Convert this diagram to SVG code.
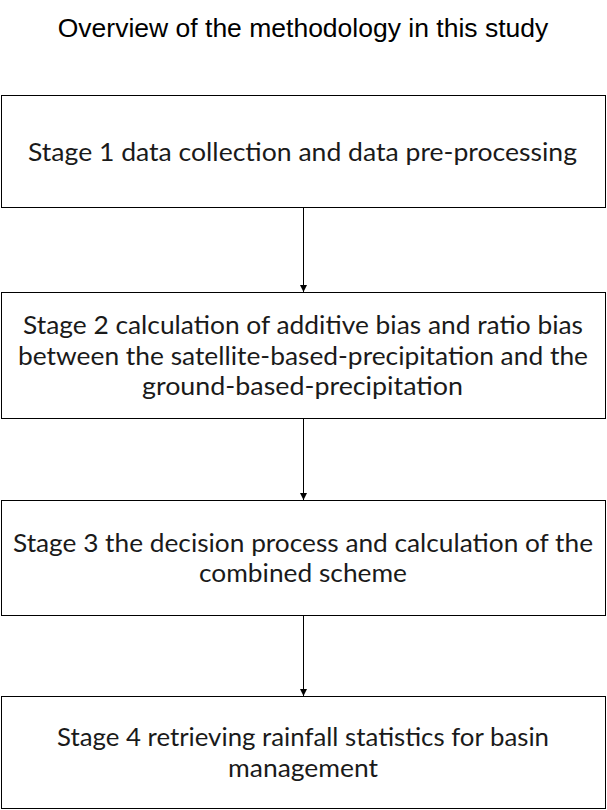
<svg xmlns="http://www.w3.org/2000/svg" width="607" height="810" viewBox="0 0 607 810">
<style>
.box{fill:#fff;stroke:#000;stroke-width:1}
.t{font-family:Lato,"Noto Sans",sans-serif;font-size:25px;fill:#1a1a1a;text-anchor:middle}
.title{font-family:"Liberation Sans",Arial,sans-serif;font-size:26.5px;fill:#000;text-anchor:middle}
.c{stroke:#000;stroke-width:1;fill:none;marker-end:url(#ah)}
</style>
<defs>
<marker id="ah" viewBox="0 0 10 10" refX="10" refY="5" markerWidth="7" markerHeight="9" markerUnits="userSpaceOnUse" orient="auto">
<path d="M0,0 L10,5 L0,10 z" fill="#000"/>
</marker>
</defs>
<rect width="607" height="810" fill="#fff"/>
<text class="title" x="303" y="37">Overview of the methodology in this study</text>
<g id="stage1">
<rect class="box" x="1.5" y="95.5" width="604" height="112"/>
<text class="t" x="302.5" y="161" textLength="549" lengthAdjust="spacingAndGlyphs">Stage 1 data collection and data pre-processing</text>
</g>
<g id="stage2">
<rect class="box" x="1.5" y="292.5" width="604" height="126"/>
<text class="t" x="303" y="334" textLength="560" lengthAdjust="spacingAndGlyphs">Stage 2 calculation of additive bias and ratio bias</text>
<text class="t" x="303" y="365" textLength="570" lengthAdjust="spacingAndGlyphs">between the satellite-based-precipitation and the</text>
<text class="t" x="302.5" y="395" textLength="321" lengthAdjust="spacingAndGlyphs">ground-based-precipitation</text>
</g>
<g id="stage3">
<rect class="box" x="1.5" y="500.5" width="604" height="115"/>
<text class="t" x="303" y="552" textLength="580" lengthAdjust="spacingAndGlyphs">Stage 3 the decision process and calculation of the</text>
<text class="t" x="303" y="582" textLength="208" lengthAdjust="spacingAndGlyphs">combined scheme</text>
</g>
<g id="stage4">
<rect class="box" x="1.5" y="696.5" width="604" height="112"/>
<text class="t" x="303" y="746" textLength="492" lengthAdjust="spacingAndGlyphs">Stage 4 retrieving rainfall statistics for basin</text>
<text class="t" x="303" y="777" textLength="150" lengthAdjust="spacingAndGlyphs">management</text>
</g>
<g id="connectors">
<line class="c" x1="303.5" y1="208" x2="303.5" y2="292"/>
<line class="c" x1="303.5" y1="419" x2="303.5" y2="500"/>
<line class="c" x1="303.5" y1="616" x2="303.5" y2="696"/>
</g>
</svg>
